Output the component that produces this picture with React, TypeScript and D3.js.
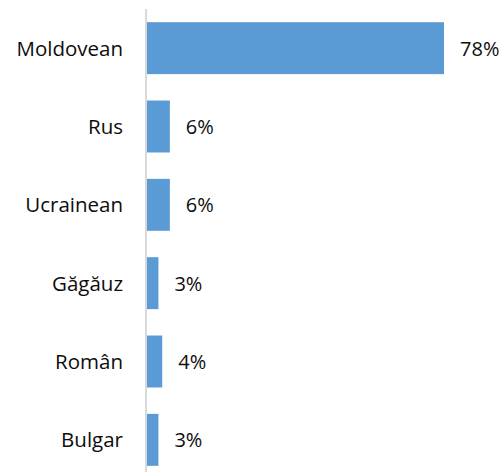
import React from "react";
import * as d3 from "d3";

const categories = ["Moldovean", "Rus", "Ucrainean", "Găgăuz", "Român", "Bulgar"];
const values = [78, 6, 6, 3, 4, 3];

const width = 504;
const height = 472;
const axisX = 146;

export default function App() {
  const x = d3.scaleLinear().domain([0, 78]).range([axisX + 1, 444]);
  const y = d3
    .scaleBand<string>()
    .domain(categories)
    .range([9, 479])
    .paddingInner(0.337)
    .paddingOuter(0.1685);

  const font = "'Open Sans', sans-serif";

  return (
    <svg
      width={width}
      height={height}
      style={{ position: "absolute", left: 0, top: 0, background: "#fff" }}
      fontFamily={font}
    >
      {categories.map((c, i) => {
        const yy = y(c)!;
        const bw = x(values[i]) - x(0);
        const cy = yy + y.bandwidth() / 2;
        return (
          <g key={c}>
            <rect x={x(0)} y={yy} width={bw} height={y.bandwidth()} fill="#5b9bd5" />
            <text x={123} y={cy + 7.5} textAnchor="end" fontSize={20.5} fill="#0d0d0d">
              {c}
            </text>
            <text x={x(values[i]) + 16} y={cy + 7.5} fontSize={20} fill="#0d0d0d">
              {values[i]}%
            </text>
          </g>
        );
      })}
      <line x1={axisX} x2={axisX} y1={9} y2={height} stroke="#d9d9d9" strokeWidth={2} />
    </svg>
  );
}
